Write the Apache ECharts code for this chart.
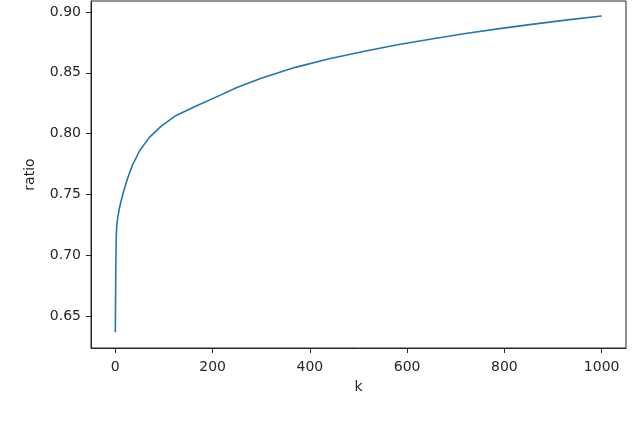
<!DOCTYPE html>
<html>
<head>
<meta charset="utf-8">
<script src="https://cdn.jsdelivr.net/npm/echarts@6/dist/echarts.min.js"></script>
<style>
  html, body { margin: 0; padding: 0; background: #fff; }
  #chart { width: 640px; height: 429px; }
</style>
</head>
<body>
<div id="chart"></div>
<script>
// k values and ratio
var kValues = [0, 1, 2, 3, 5, 8, 12, 18, 25, 35, 50, 70, 95, 125, 165, 215, 250, 300, 370, 440, 510, 580, 650, 720, 790, 860, 930, 1000]
var ratioValues = [0.637, 0.690, 0.716, 0.725, 0.731, 0.738, 0.745, 0.754, 0.763, 0.774, 0.786, 0.797, 0.8065, 0.815, 0.8225, 0.8315, 0.838, 0.8455, 0.8545, 0.8615, 0.8675, 0.873, 0.8778, 0.8823, 0.8863, 0.8900, 0.8935, 0.8967]
var xTicks = [0, 200, 400, 600, 800, 1000]
var yTicks = [0.65, 0.70, 0.75, 0.80, 0.85, 0.90]

var textColor = '#262626'
var chart = echarts.init(document.getElementById('chart'))

var points = kValues.map(function (k, i) { return [k, ratioValues[i]] })

chart.setOption({
  animation: false,
  grid: {
    left: 91,
    right: 14,
    top: 1,
    bottom: 81,
    show: true,
    borderColor: textColor,
    borderWidth: 1
  },
  xAxis: {
    type: 'value',
    min: -50,
    max: 1050,
    name: 'k',
    nameLocation: 'middle',
    nameGap: 32,
    nameTextStyle: { color: textColor, fontSize: 14, fontFamily: 'DejaVu Sans' },
    axisLine: { show: true, onZero: false, lineStyle: { color: textColor, width: 1 } },
    axisTick: { show: true, length: 5, customValues: xTicks, lineStyle: { color: textColor } },
    axisLabel: {
      customValues: xTicks,
      margin: 12,
      color: textColor,
      fontSize: 14,
      fontFamily: 'DejaVu Sans',
      formatter: function (v) { return String(v) }
    },
    splitLine: { show: false }
  },
  yAxis: {
    type: 'value',
    min: 0.624,
    max: 0.909,
    name: 'ratio',
    nameLocation: 'middle',
    nameGap: 54,
    nameTextStyle: { color: textColor, fontSize: 14, fontFamily: 'DejaVu Sans' },
    axisLine: { show: true, onZero: false, lineStyle: { color: textColor, width: 1 } },
    axisTick: { show: true, length: 5, customValues: yTicks, lineStyle: { color: textColor } },
    axisLabel: {
      customValues: yTicks,
      margin: 10,
      color: textColor,
      fontSize: 14,
      fontFamily: 'DejaVu Sans',
      formatter: function (v) { return v.toFixed(2) }
    },
    splitLine: { show: false }
  },
  series: [
    {
      type: 'line',
      data: points,
      smooth: false,
      showSymbol: false,
      lineStyle: { color: '#1f77b4', width: 1.6 }
    }
  ]
})
</script>
</body>
</html>
